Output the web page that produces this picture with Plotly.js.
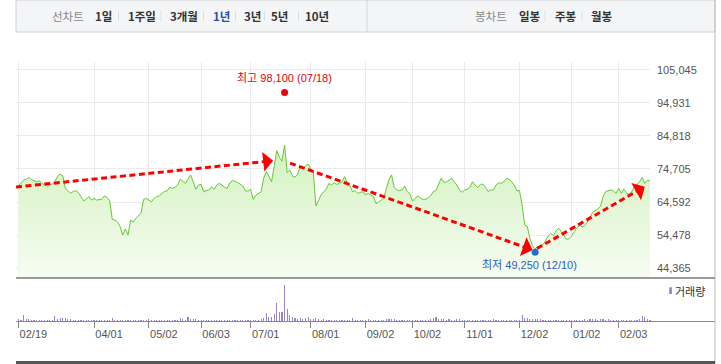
<!DOCTYPE html>
<html><head><meta charset="utf-8">
<script src="https://cdn.plot.ly/plotly-3.0.1.min.js"></script>
<style>html,body{margin:0;padding:0;background:#fff;}#chart{width:721px;height:364px;}</style>
</head><body><div id="chart"></div>
<script>
// Trading-day index of each x tick label (first trading day of month)
const tickIdx = [0, 29, 50, 70, 89, 112, 133, 151, 171, 192, 212, 230];
const tickLabels = ['02/19','04/01','05/02','06/03','07/01','08/01','09/02','10/02','11/01','12/02','01/02','02/03'];

// Daily closing prices (one per trading day, 2024-02-19 .. 2025-02-19)
const prices = [
  69500,70300,71300,71600,72100,71500,71200,70800,71100,70500,
  69800,69500,69900,70100,70800,72400,73100,72700,68800,68100,
  67300,67800,68100,67500,66300,65000,65400,66300,65200,65700,
  65200,65400,65500,66500,66000,65000,59300,59100,58500,57100,
  54500,56400,54500,59100,58500,59600,60300,61200,65400,65700,
  65200,64700,65700,66300,66500,67300,67900,68000,69100,68800,
  69100,69800,71600,71000,70300,71600,72900,70800,68500,69800,
  70000,67800,68000,68300,69300,68500,69800,70300,69800,69100,
  68800,70500,71100,71000,70600,70100,69500,68000,68000,68500,
  65400,66700,67300,67700,71900,73900,72400,70800,75400,80300,
  78300,77100,82000,73600,74400,72600,72200,73100,75400,74900,
  75600,76200,74900,73900,63400,65200,66800,67800,68500,70300,
  69800,70500,70000,70300,70800,72400,70600,69800,67800,68100,
  67300,67500,67800,66800,67300,66800,66300,64200,64500,65200,
  65700,68800,71500,72900,69100,68300,68100,68300,69500,67800,
  67100,64900,65700,66500,65900,65400,65500,65800,66600,67800,
  68100,70300,71900,70600,70800,71300,71900,70800,69800,68300,
  67600,68300,68500,69100,70800,69800,69100,70000,70100,69100,
  67800,68300,68300,69800,70500,70300,70800,71900,71600,70800,
  69800,68100,68100,63700,57600,57100,53500,51200,50300,51000,
  51400,51500,53000,54200,55000,54300,55800,56600,55600,54500,
  53200,53400,54200,55600,56800,57500,57000,57400,58600,59900,
  61500,61900,62500,63200,66200,67800,68100,68300,68000,67300,
  68800,67300,68600,67300,67000,67800,69300,69800,70800,72100,
  70300,71300,71000
];

// Daily trading volume (arbitrary units)
const volumes = [
  170,100,600,230,230,120,130,120,130,120,
  120,110,130,120,500,250,270,330,330,170,
  230,130,130,120,130,120,110,120,130,60,
  110,60,120,60,110,100,330,140,130,120,
  140,130,120,130,120,130,120,130,140,120,
  200,120,130,120,130,120,130,120,120,130,
  140,120,330,170,140,430,230,200,170,130,
  120,60,130,120,60,130,60,120,60,120,
  60,60,130,120,130,120,130,120,60,60,
  120,130,120,200,330,800,430,430,700,1800,
  950,950,3600,1200,600,400,270,200,330,200,
  270,400,170,230,270,200,130,170,130,130,
  120,130,120,130,130,120,130,120,330,130,
  120,130,120,120,250,130,120,130,120,130,
  130,230,250,230,170,130,130,120,130,120,
  130,120,60,60,60,60,120,130,170,300,
  400,230,200,170,130,170,130,130,200,170,
  130,120,130,120,120,130,60,120,130,60,
  120,130,170,120,60,130,120,130,60,120,
  130,60,120,600,300,330,230,200,230,170,
  170,130,130,130,120,130,120,60,120,60,
  130,120,60,130,120,60,130,170,130,200,
  250,170,130,200,170,130,170,130,130,120,
  130,120,130,60,120,130,60,130,200,500,
  400,250,100
];

const yTicks = [44365, 54478, 64592, 74705, 84818, 94931, 105045];
const yTickLabels = ['44,365','54,478','64,592','74,705','84,818','94,931','105,045'];

// High / low markers
const extremeIdx = [102, 198];
const extremeValues = [98100, 49250];
const extremeLabels = ['최고 98,100 (07/18)', '최저 49,250 (12/10)'];
const extremeColors = ['#e8000b', '#2a6bd1'];

// Hand-drawn trend arrows: [startIdx, startVal, baseIdx, baseVal, tipIdx, tipVal]
const trendStartIdx = [-0.9, 104.1, 198.7];
const trendStartVal = [69200, 76500, 50400];
const trendBaseIdx = [94.5, 194.1, 237.3];
const trendBaseVal = [76980, 50780, 68070];
const trendTipIdx = [97.6, 197.0, 240.0];
const trendTipVal = [77240, 49960, 69290];

const W = 721, H = 364;
const px = x => x / W;
const py = y => 1 - y / H;
const idx = prices.map((_, i) => i);
const pxPerIdx = (650 - 16) / (242 + 0.9);

const tickFont = {family: 'Liberation Sans, Arial, sans-serif', size: 11, color: '#555'};
const kFont = 'Noto Sans CJK KR, sans-serif';

const traces = [
  {
    type: 'scatter', mode: 'lines', x: idx, y: prices, xaxis: 'x', yaxis: 'y',
    line: {color: '#66c837', width: 1},
    fill: 'tozeroy', fillcolor: 'rgba(214,243,196,0.7)',
    fillgradient: {type: 'vertical', start: 41400, stop: 82000,
      colorscale: [[0, '#f6fcf2'], [1, '#d3f2bf']]},
    hoverinfo: 'skip'
  },
  {
    type: 'bar', x: idx, y: volumes, xaxis: 'x2', yaxis: 'y2',
    marker: {color: '#9883cf', line: {width: 0}}, width: 0.42, hoverinfo: 'skip'
  },
  {
    type: 'scatter', mode: 'markers', x: extremeIdx, y: extremeValues, xaxis: 'x', yaxis: 'y',
    marker: {size: 7, color: extremeColors}, cliponaxis: false, hoverinfo: 'skip'
  }
];

const shapes = [
  // top selector bar
  {type: 'rect', xref: 'paper', yref: 'paper', x0: px(16), x1: px(715), y0: py(32), y1: py(0),
   fillcolor: '#f4f5f7', line: {color: '#cfd0d3', width: 1}, layer: 'below'},
  {type: 'line', xref: 'paper', yref: 'paper', x0: px(367), x1: px(367), y0: py(32), y1: py(0), line: {color: '#d4d5d8', width: 1}},
  // frame lines
  {type: 'line', xref: 'paper', yref: 'paper', x0: px(715), x1: px(715), y0: py(364), y1: py(0), line: {color: '#bdbdbd', width: 1}},
  {type: 'line', xref: 'paper', yref: 'paper', x0: px(16), x1: px(715), y0: py(278), y1: py(278), line: {color: '#7a7a7a', width: 1.5}},
  {type: 'line', xref: 'paper', yref: 'paper', x0: px(16), x1: px(715), y0: py(362.5), y1: py(362.5), line: {color: '#555', width: 3}},
  // volume legend swatch
  {type: 'rect', xref: 'paper', yref: 'paper', x0: px(669.3), x1: px(671.8), y0: py(294), y1: py(287.3), fillcolor: '#8f7bcb', line: {width: 0}}
];
// separators in top bar
[118.5, 161, 203.5, 235.5, 264.5, 298.5, 545, 582].forEach(x => shapes.push({
  type: 'line', xref: 'paper', yref: 'paper', x0: px(x), x1: px(x), y0: py(21), y1: py(11), line: {color: '#dcdde0', width: 1}
}));
// dashed trend lines
for (let k = 0; k < trendStartIdx.length; k++) {
  shapes.push({type: 'line', xref: 'x', yref: 'y', x0: trendStartIdx[k], y0: trendStartVal[k], x1: trendBaseIdx[k], y1: trendBaseVal[k],
    line: {color: '#ff0000', width: 3, dash: '6px,3.5px'}});
}

const annotations = [];
const topItems = [
  ['선차트', 50, '#888', false], ['1일', 93, '#333', true], ['1주일', 126, '#333', true], ['3개월', 168, '#333', true],
  ['1년', 211, '#2650a8', true], ['3년', 242, '#333', true], ['5년', 269, '#333', true], ['10년', 303, '#333', true],
  ['봉차트', 473, '#888', false], ['일봉', 517, '#333', true], ['주봉', 553, '#333', true], ['월봉', 589, '#333', true]
];
topItems.forEach(([t, x, c, b]) => annotations.push({
  xref: 'paper', yref: 'paper', x: px(x), y: py(16), xanchor: 'left', yanchor: 'middle', showarrow: false,
  text: b ? '<b>' + t + '</b>' : t, font: {family: kFont, size: 11.5, color: c}
}));
annotations.push({xref: 'paper', yref: 'paper', x: px(673), y: py(291), xanchor: 'left', yanchor: 'middle', showarrow: false,
  text: '거래량', font: {family: kFont, size: 11, color: '#333'}});
// extreme labels
annotations.push({xref: 'x', yref: 'y', x: extremeIdx[0], y: extremeValues[0], yshift: 14.5, xanchor: 'center', yanchor: 'middle',
  showarrow: false, text: extremeLabels[0], font: {family: 'Liberation Sans, Noto Sans CJK KR, sans-serif', size: 11, color: extremeColors[0]}});
annotations.push({xref: 'x', yref: 'y', x: extremeIdx[1], y: extremeValues[1], yshift: -12.5, xshift: -6, xanchor: 'center', yanchor: 'middle',
  showarrow: false, text: extremeLabels[1], font: {family: 'Liberation Sans, Noto Sans CJK KR, sans-serif', size: 11, color: '#2a5fc0'}});
// arrowheads
for (let k = 0; k < trendTipIdx.length; k++) {
  annotations.push({xref: 'x', yref: 'y', axref: 'x', ayref: 'y', x: trendTipIdx[k], y: trendTipVal[k], ax: trendBaseIdx[k], ay: trendBaseVal[k],
    text: '', showarrow: true, arrowhead: 1, arrowsize: 1.1, arrowwidth: 3, arrowcolor: '#ff0000', standoff: 0, startstandoff: 0});
}

const layout = {
  width: W, height: H, margin: {l: 0, r: 0, t: 0, b: 0}, paper_bgcolor: '#fff', plot_bgcolor: 'rgba(0,0,0,0)',
  showlegend: false, bargap: 0,
  xaxis: {domain: [px(16), px(650)], range: [-0.9, 242], anchor: 'y', tickvals: tickIdx, showticklabels: false,
    showgrid: true, gridcolor: '#ebebeb', gridwidth: 1, zeroline: false, showline: false, ticks: '', fixedrange: true},
  yaxis: {domain: [py(278), py(62)], range: [41400, 107390], anchor: 'x', side: 'right', tickvals: yTicks, ticktext: yTickLabels,
    showgrid: true, gridcolor: '#ebebeb', zeroline: false, showline: false, ticks: '', ticklabelstandoff: 6, tickfont: tickFont, fixedrange: true},
  xaxis2: {domain: [px(16), px(715)], range: [-0.9, -0.9 + (715 - 16) / pxPerIdx], anchor: 'y2', tickvals: tickIdx, ticktext: tickLabels,
    ticks: 'outside', ticklen: 6, tickcolor: '#888', tickwidth: 1, showgrid: false, zeroline: false, showline: true, linecolor: '#8a8a8a', linewidth: 1,
    ticklabelshift: 15, ticklabelstandoff: -3,
    tickfont: tickFont, fixedrange: true},
  yaxis2: {domain: [py(321), py(280)], range: [0, 4100], anchor: 'x2', showgrid: false, showticklabels: false, zeroline: false, ticks: '', fixedrange: true},
  shapes: shapes, annotations: annotations
};

Plotly.newPlot('chart', traces, layout, {displayModeBar: false, staticPlot: true});
</script>
</body></html>
